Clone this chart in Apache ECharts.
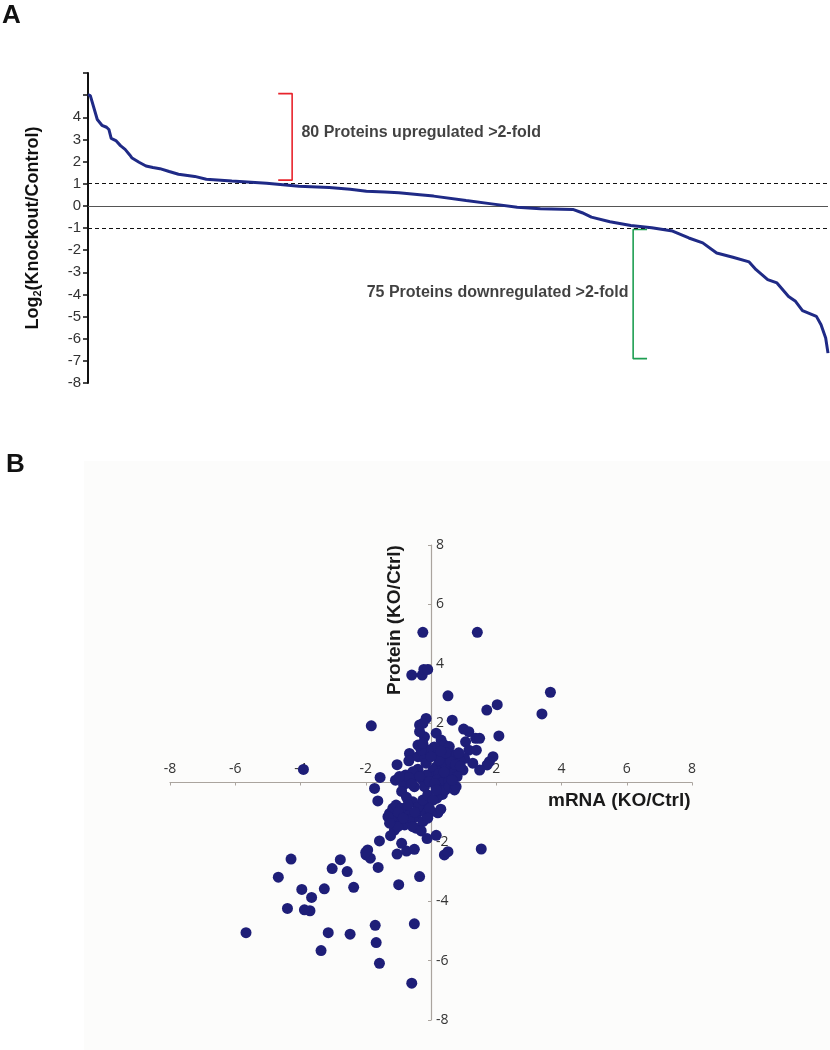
<!DOCTYPE html>
<html>
<head>
<meta charset="utf-8">
<script src="https://cdn.jsdelivr.net/npm/echarts@6/dist/echarts.min.js"></script>
<style>
html,body{margin:0;padding:0;background:#fff;}
#chart{width:830px;height:1050px;}
</style>
</head>
<body>
<div id="chart"></div>
<script>
// ---- Panel A: ranked protein log2 ratios (rank index, value) ----
const rankIndex = [0,1,4,6,8,9,10,12,14,16,18,19,22,25,28,31,35,39,46,51,62,77,91,104,113,120,128,134,143,149,163,174,185,195,209,213,217,225,234,243,252,259,265,271,278,285,288,293,297,302,305,308,314,316,318,319];
const log2Ratio = [5.02,4.98,3.9,3.64,3.55,3.45,3.05,2.95,2.72,2.55,2.3,2.16,1.97,1.8,1.73,1.68,1.55,1.43,1.33,1.2,1.12,1.02,0.89,0.83,0.75,0.66,0.63,0.59,0.5,0.44,0.24,0.09,-0.06,-0.13,-0.16,-0.31,-0.51,-0.72,-0.89,-0.99,-1.14,-1.45,-1.67,-2.13,-2.32,-2.53,-2.88,-3.33,-3.48,-4.09,-4.31,-4.73,-4.99,-5.37,-5.97,-6.65];
const totalProteins = 320;
const yTicksA = [-8,-7,-6,-5,-4,-3,-2,-1,0,1,2,3,4];
const foldThresholds = [1, -1];
const upCount = 80, downCount = 75;
const upBracket = {rankFrom: 82, rankTo: 88, top: 5.07, bottom: 1.16};
const downBracket = {rankFrom: 235, rankTo: 241, top: -1.07, bottom: -6.9};
const upLabelAt = [92, 3.33];
const downLabelAt = [233, -3.9];

// ---- Panel B: mRNA vs protein (log2 KO/Ctrl) ----
const mrnaVsProtein = [
 [-0.25,5.06],[1.42,5.06],[-0.59,3.62],[-0.27,3.62],[-0.22,3.81],[-0.1,3.81],[0.52,2.92],[1.71,2.44],[2.03,2.62],[3.4,2.31],[3.66,3.04],[-0.15,2.16],[0.65,2.1],[-0.35,1.94],[-0.25,1.99],[-1.83,1.91],[-3.91,0.44],
 [1.0,1.8],[1.16,1.71],[1.37,1.49],[1.49,1.49],[2.08,1.57],[1.06,1.37],[1.16,1.09],[1.39,1.09],[1.9,0.87],[1.79,0.7],[1.72,0.59],[1.49,0.42],[1.28,0.65],[1.03,0.81],[0.88,0.76],[0.98,0.42],[0.67,0.93],[0.47,0.87],[0.31,0.7],[0.16,0.53],[0.06,0.42],[0.36,0.42],[0.56,0.53],[0.77,0.42],[0.21,0.93],[0.06,0.98],[0.36,1.09],[0.16,1.66],[0.31,1.43],[0.41,1.26],[0.56,1.21],[0.1,0.2],[0.3,0.15],[0.5,0.25],[0.25,0.3],[0.45,0.6],[0.65,0.3],[0.8,0.2],
 [0.2,0.1],[0.35,0.0],[0.55,0.05],[0.4,0.35],[0.6,0.7],[0.75,0.6],[0.9,0.55],[0.25,0.75],[0.45,1.0],[0.1,1.2],[-0.1,1.1],[0.3,1.05],[0.85,1.0],[0.15,-0.15],[0.35,-0.4],
 [-0.66,0.98],[-0.4,0.87],[-0.2,0.81],[-0.15,0.65],[-0.3,1.09],[-0.2,1.54],[-0.35,1.71],[-0.4,1.26],[-0.25,1.32],[0,0.87],
 [-1.56,0.17],[-1.09,0.08],[-1.04,0.6],[-0.78,0.25],[-0.84,-0.08],[-0.68,0.73],[-0.4,0.45],[-0.46,0.2],[-0.51,-0.14],[-0.25,0.08],[-0.15,0.25],[-0.2,-0.14],[-0.05,0.03],[0.11,-0.03],[0.18,-0.53],[0.44,-0.25],[0.56,-0.14],[0.72,-0.25],[0.77,-0.14],[0.65,0.08],[-0.56,0.36],[-0.68,0.17],[-0.97,0.2],[-1.73,-0.2],[-1.63,-0.62],
 [-0.35,0.2],[-0.6,-0.05],[-0.9,-0.3],[-0.75,-0.5],
 [-1.27,-1.04],[-1.17,-0.87],[-1.07,-0.76],[-0.97,-1.15],[-0.81,-0.93],[-0.71,-1.09],[-0.61,-1.32],[-0.46,-1.15],[-0.35,-0.93],[-0.2,-0.76],[-0.15,-1.04],[0.0,-0.98],[0.21,-1.02],[-0.56,-0.65],[-0.4,-0.81],[-0.25,-0.59],[-0.1,-0.42],[0.06,-0.59],[0.16,-0.25],[-1.17,-1.37],[-0.97,-1.32],[-0.81,-1.43],[-0.66,-1.26],[-0.46,-1.54],[-0.25,-1.32],[-0.92,-0.87],[-0.71,-0.76],[-0.05,-0.87],[-1.22,-1.21],[-1.12,-1.6],[-1.24,-1.79],[-1.02,-1.49],[-0.56,-1.49],[-0.3,-1.63],[-1.32,-1.15],[-1.27,-1.37],
 [-1.0,-1.0],[-0.5,-1.0],[-0.85,-1.2],[-0.1,-1.2],[0.3,-0.9],
 [-0.12,-1.89],[0.16,-1.78],[0.41,-2.44],[0.52,-2.33],[1.54,-2.24],[-1.58,-1.97],[-1.04,-2.41],[-0.9,-2.05],[-0.75,-2.31],[-0.51,-2.25],[-1.94,-2.27],[-1.99,-2.44],[-1.86,-2.55],[-2.0,-2.35],[-1.62,-2.86],[-0.99,-3.44],[-0.35,-3.17],[-0.51,-4.76],[-0.59,-6.76],[-1.58,-6.09],[-1.68,-5.39],[-1.71,-4.81],[-3.37,-5.66],[-2.48,-5.11],[-3.15,-5.06],[-2.37,-3.53],[-2.57,-3.0],[-2.78,-2.6],[-3.03,-2.9],[-3.27,-3.58],[-3.71,-4.32],[-3.88,-4.29],[-4.4,-4.24],[-3.66,-3.87],[-3.96,-3.6],[-4.68,-3.19],[-4.29,-2.58],[-5.67,-5.06]
];
const axisRangeB = [-8, 8];

const chart = echarts.init(document.getElementById('chart'), null, {renderer:'canvas'});
const FONT = '"Liberation Sans", Arial, sans-serif';
const TICKFONT = '"Open Sans", sans-serif';
const NAVY = '#1f2a86';
const gridB = {left:170, top:545, width:522, height:475};

function bracket(b, side) {
  const armX = side === 'left' ? b.rankFrom : b.rankTo;
  const barX = side === 'left' ? b.rankTo : b.rankFrom;
  return [[armX, b.top],[barX, b.top],[barX, b.bottom],[armX, b.bottom]];
}

const option = {
  animation: false,
  backgroundColor: '#ffffff',
  textStyle: {fontFamily: FONT},
  graphic: [
    {type:'rect', z:-10, shape:{x:84,y:461,width:746,height:589}, style:{fill:'#fcfcfb'}},
    {type:'text', left:2, top:3, style:{text:'A', font:'bold 26px '+FONT, fill:'#111'}},
    {type:'text', left:6, top:452, style:{text:'B', font:'bold 26px '+FONT, fill:'#111'}},
    {type:'text', x:548, y:801, style:{text:'mRNA (KO/Ctrl)', font:'bold 19px '+FONT, fill:'#1a1a1a', verticalAlign:'middle'}},
    {type:'text', x:395, y:620, rotation:Math.PI/2, style:{text:'Protein (KO/Ctrl)', font:'bold 19px '+FONT, fill:'#1a1a1a', align:'center', verticalAlign:'middle'}}
  ],
  grid: [
    {left:88, top:73, width:740, height:310},
    gridB
  ],
  xAxis: [
    {gridIndex:0, type:'value', min:0, max:totalProteins-1, show:false},
    {gridIndex:1, type:'value', min:axisRangeB[0], max:axisRangeB[1], interval:2,
     position:'bottom', offset:-gridB.height/2,
     axisLine:{onZero:false, lineStyle:{color:'#aaa49e', width:1.2}},
     axisTick:{show:true, length:3, lineStyle:{color:'#aaa49e'}},
     axisLabel:{inside:true, margin:6, color:'#333', fontSize:14, fontFamily:TICKFONT,
       formatter:v => v === 0 ? '' : String(v)},
     splitLine:{show:false}}
  ],
  yAxis: [
    {gridIndex:0, type:'value', min:-8, max:6, interval:1,
     axisLine:{show:true, onZero:false, lineStyle:{color:'#111', width:2}},
     axisTick:{show:true, length:5, lineStyle:{color:'#111', width:1.5}},
     axisLabel:{color:'#333', fontSize:15, margin:7, fontFamily:FONT,
       formatter:v => yTicksA.indexOf(v) >= 0 ? String(v) : ''},
     splitLine:{show:false},
     name:'{b|Log}{s|2}{b|(Knockout/Control)}', nameLocation:'middle', nameRotate:90, nameGap:45,
     nameTextStyle:{rich:{
       b:{fontSize:18, fontWeight:'bold', color:'#111', fontFamily:FONT},
       s:{fontSize:11, fontWeight:'bold', color:'#111', fontFamily:FONT, padding:[9,0,0,0]}
     }}},
    {gridIndex:1, type:'value', min:axisRangeB[0], max:axisRangeB[1], interval:2,
     position:'left', offset:-gridB.width/2,
     axisLine:{onZero:false, lineStyle:{color:'#aaa49e', width:1.2}},
     axisTick:{show:true, length:3, lineStyle:{color:'#aaa49e'}},
     axisLabel:{inside:true, margin:5, color:'#333', fontSize:14, fontFamily:TICKFONT,
       formatter:v => v === 0 ? '{z|0}' : String(v),
       rich:{z:{padding:[24,0,0,0], fontSize:14, color:'#333', fontFamily:TICKFONT}}},
     splitLine:{show:false}}
  ],
  series: [
    {type:'line', xAxisIndex:0, yAxisIndex:0, data: rankIndex.map((r,i)=>[r, log2Ratio[i]]),
     showSymbol:false, symbol:'none', lineStyle:{color:NAVY, width:3}, z:5,
     markLine:{silent:true, symbol:'none', label:{show:false},
       data:[
         {yAxis:0, lineStyle:{color:'#555', type:'solid', width:1}},
         {yAxis:foldThresholds[0], lineStyle:{color:'#111', type:[4,3], width:1.2}},
         {yAxis:foldThresholds[1], lineStyle:{color:'#111', type:[4,3], width:1.2}}
       ]}},
    {type:'line', xAxisIndex:0, yAxisIndex:0, data: bracket(upBracket,'left'), symbol:'none',
     lineStyle:{color:'#e8242c', width:1.6}, silent:true},
    {type:'line', xAxisIndex:0, yAxisIndex:0, data: bracket(downBracket,'right'), symbol:'none',
     lineStyle:{color:'#1e9e52', width:1.6}, silent:true},
    {type:'scatter', xAxisIndex:0, yAxisIndex:0, symbolSize:0, silent:true,
     data:[{value:upLabelAt, label:{position:'right', formatter: upCount + ' Proteins upregulated >2-fold'}},
           {value:downLabelAt, label:{position:'left', formatter: downCount + ' Proteins downregulated >2-fold'}}],
     label:{show:true, distance:0, color:'#111', fontSize:16, fontWeight:'bold', fontFamily:FONT}},
    {type:'scatter', xAxisIndex:1, yAxisIndex:1, data: mrnaVsProtein, symbolSize:11,
     itemStyle:{color:'#1e1e78', opacity:1}, z:3}
  ]
};
chart.setOption(option);
</script>
</body>
</html>
